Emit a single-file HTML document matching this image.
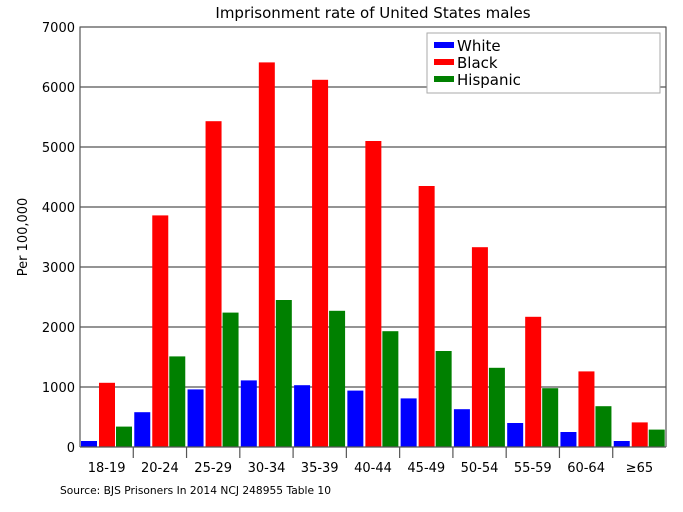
<!DOCTYPE html>
<html><head><meta charset="utf-8"><style>
html,body{margin:0;padding:0;background:#fff;}
svg{display:block;font-family:"DejaVu Sans","Liberation Sans",sans-serif;}
</style></head><body>
<svg width="683" height="512" viewBox="0 0 683 512" xmlns="http://www.w3.org/2000/svg">
<rect width="683" height="512" fill="#fff"/>
<text x="373" y="18" font-size="15" text-anchor="middle" fill="#000">Imprisonment rate of United States males</text>
<g stroke="#555" stroke-width="1.2">
<line x1="80" y1="27" x2="666" y2="27"/>
<line x1="80" y1="87" x2="666" y2="87"/>
<line x1="80" y1="147" x2="666" y2="147"/>
<line x1="80" y1="207" x2="666" y2="207"/>
<line x1="80" y1="267" x2="666" y2="267"/>
<line x1="80" y1="327" x2="666" y2="327"/>
<line x1="80" y1="387" x2="666" y2="387"/>
</g>
<g font-size="13" text-anchor="end" fill="#000">
<text x="75" y="32">7000</text><text x="75" y="92">6000</text><text x="75" y="152">5000</text>
<text x="75" y="212">4000</text><text x="75" y="272">3000</text><text x="75" y="332">2000</text>
<text x="75" y="392">1000</text><text x="75" y="452">0</text>
</g>
<text transform="translate(27,237) rotate(-90)" font-size="13" text-anchor="middle">Per 100,000</text>
<g id="bars">
<g transform="translate(80,0)"><rect x="1" y="441" width="16" height="6" fill="#00f"/><rect x="19" y="382.8" width="16" height="64.2" fill="#f00"/><rect x="36" y="426.6" width="16" height="20.4" fill="#008000"/></g>
<g transform="translate(133.27,0)"><rect x="1" y="412.2" width="16" height="34.8" fill="#00f"/><rect x="19" y="215.4" width="16" height="231.6" fill="#f00"/><rect x="36" y="356.4" width="16" height="90.6" fill="#008000"/></g>
<g transform="translate(186.55,0)"><rect x="1" y="389.4" width="16" height="57.6" fill="#00f"/><rect x="19" y="121.2" width="16" height="325.8" fill="#f00"/><rect x="36" y="312.6" width="16" height="134.4" fill="#008000"/></g>
<g transform="translate(239.82,0)"><rect x="1" y="380.4" width="16" height="66.6" fill="#00f"/><rect x="19" y="62.4" width="16" height="384.6" fill="#f00"/><rect x="36" y="300" width="16" height="147" fill="#008000"/></g>
<g transform="translate(293.09,0)"><rect x="1" y="385.2" width="16" height="61.8" fill="#00f"/><rect x="19" y="79.8" width="16" height="367.2" fill="#f00"/><rect x="36" y="310.8" width="16" height="136.2" fill="#008000"/></g>
<g transform="translate(346.36,0)"><rect x="1" y="390.6" width="16" height="56.4" fill="#00f"/><rect x="19" y="141" width="16" height="306" fill="#f00"/><rect x="36" y="331.2" width="16" height="115.8" fill="#008000"/></g>
<g transform="translate(399.64,0)"><rect x="1" y="398.4" width="16" height="48.6" fill="#00f"/><rect x="19" y="186" width="16" height="261" fill="#f00"/><rect x="36" y="351" width="16" height="96" fill="#008000"/></g>
<g transform="translate(452.91,0)"><rect x="1" y="409.2" width="16" height="37.8" fill="#00f"/><rect x="19" y="247.2" width="16" height="199.8" fill="#f00"/><rect x="36" y="367.8" width="16" height="79.2" fill="#008000"/></g>
<g transform="translate(506.18,0)"><rect x="1" y="423" width="16" height="24" fill="#00f"/><rect x="19" y="316.8" width="16" height="130.2" fill="#f00"/><rect x="36" y="388.2" width="16" height="58.8" fill="#008000"/></g>
<g transform="translate(559.45,0)"><rect x="1" y="432" width="16" height="15" fill="#00f"/><rect x="19" y="371.4" width="16" height="75.6" fill="#f00"/><rect x="36" y="406.2" width="16" height="40.8" fill="#008000"/></g>
<g transform="translate(612.73,0)"><rect x="1" y="441" width="16" height="6" fill="#00f"/><rect x="19" y="422.4" width="16" height="24.6" fill="#f00"/><rect x="36" y="429.6" width="16" height="17.4" fill="#008000"/></g>
</g>
<g stroke="#555" stroke-width="1.2" fill="none">
<line x1="80" y1="26.5" x2="80" y2="447"/>
<line x1="666" y1="26.5" x2="666" y2="447"/>
<line x1="80" y1="447" x2="666" y2="447"/>
<line x1="133.27" y1="447" x2="133.27" y2="458"/><line x1="186.55" y1="447" x2="186.55" y2="458"/>
<line x1="239.82" y1="447" x2="239.82" y2="458"/><line x1="293.09" y1="447" x2="293.09" y2="458"/>
<line x1="346.36" y1="447" x2="346.36" y2="458"/><line x1="399.64" y1="447" x2="399.64" y2="458"/>
<line x1="452.91" y1="447" x2="452.91" y2="458"/><line x1="506.18" y1="447" x2="506.18" y2="458"/>
<line x1="559.45" y1="447" x2="559.45" y2="458"/><line x1="612.73" y1="447" x2="612.73" y2="458"/>
</g>
<g font-size="13" text-anchor="middle" fill="#000">
<text x="106.6" y="472">18-19</text><text x="159.9" y="472">20-24</text><text x="213.2" y="472">25-29</text>
<text x="266.5" y="472">30-34</text><text x="319.7" y="472">35-39</text><text x="373" y="472">40-44</text>
<text x="426.3" y="472">45-49</text><text x="479.5" y="472">50-54</text><text x="532.8" y="472">55-59</text>
<text x="586.1" y="472">60-64</text><text x="639.4" y="472">≥65</text>
</g>
<text x="60" y="494" font-size="10.5" fill="#000" textLength="271" lengthAdjust="spacingAndGlyphs">Source: BJS Prisoners In 2014 NCJ 248955 Table 10</text>
<rect x="427" y="33" width="233" height="60" fill="#fff" stroke="#aaa" stroke-width="1"/>
<rect x="434" y="42" width="20" height="6" fill="#00f"/>
<rect x="434" y="59" width="20" height="6" fill="#f00"/>
<rect x="434" y="76" width="20" height="6" fill="#008000"/>
<g font-size="15" fill="#000">
<text x="457" y="51">White</text><text x="457" y="68">Black</text><text x="457" y="85">Hispanic</text>
</g>
</svg>
</body></html>
